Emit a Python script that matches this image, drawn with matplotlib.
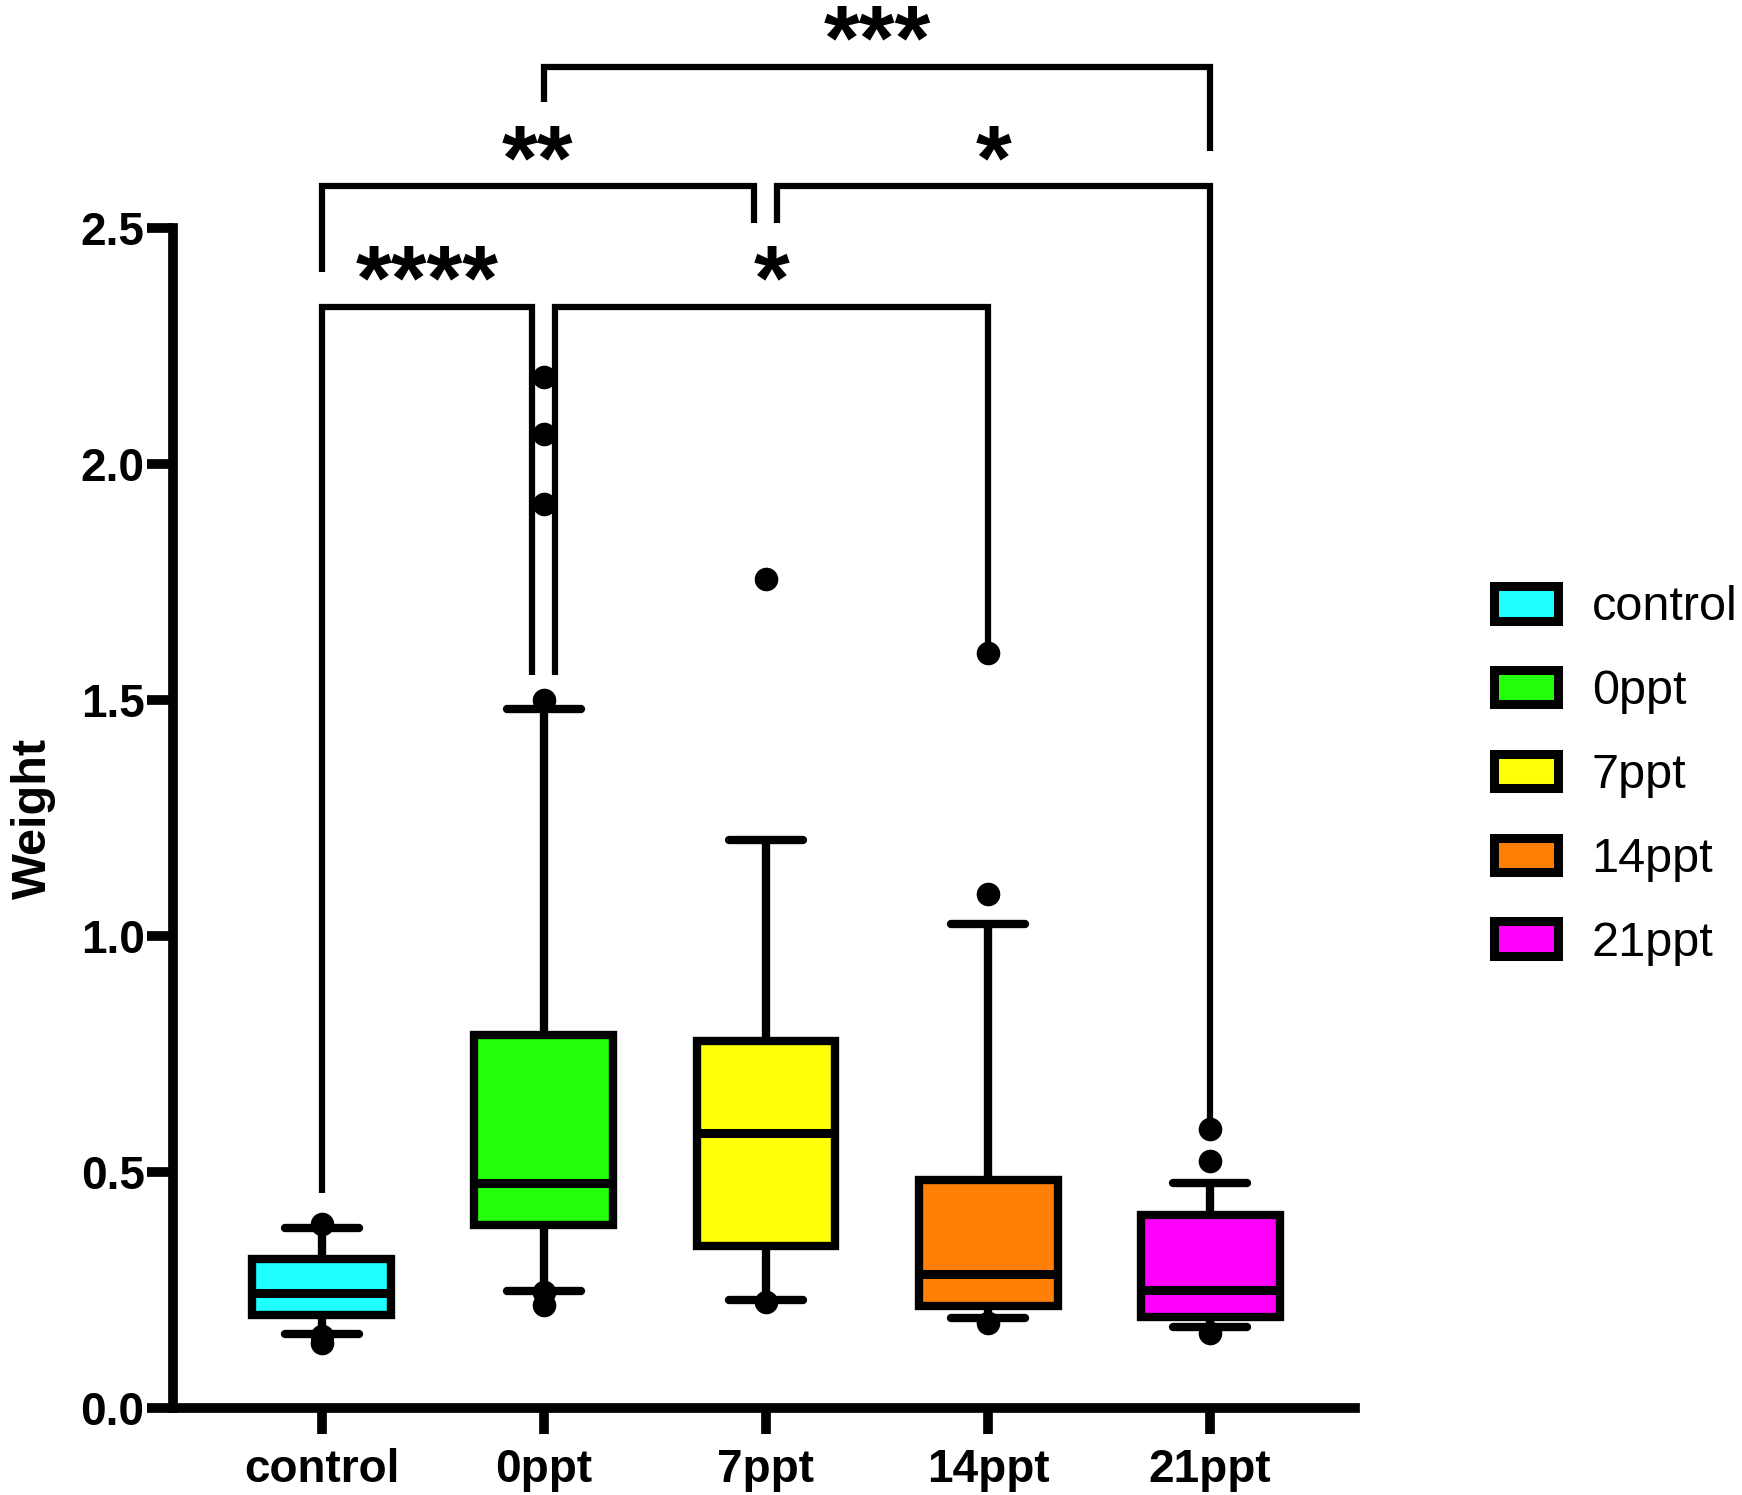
import matplotlib
matplotlib.use('Agg')
import matplotlib.pyplot as plt

plt.rcParams['font.family'] = ['Liberation Sans', 'DejaVu Sans']

# ---- data ----
groups = ['control', '0ppt', '7ppt', '14ppt', '21ppt']
colors = ['#1FFFFF', '#22FF08', '#FFFF0A', '#FF7F07', '#FF00FF']
q1 = [0.197, 0.388, 0.344, 0.217, 0.193]
medians = [0.244, 0.477, 0.582, 0.284, 0.250]
q3 = [0.316, 0.790, 0.777, 0.483, 0.408]
whisker_low = [0.157, 0.248, 0.229, 0.191, 0.172]
whisker_high = [0.381, 1.481, 1.203, 1.025, 0.477]
outliers = [
    [0.390, 0.152, 0.138],
    [2.184, 2.064, 1.915, 1.500, 0.246, 0.218],
    [1.756, 0.224],
    [1.600, 1.089, 0.180],
    [0.591, 0.523, 0.159],
]
yticks = [0.0, 0.5, 1.0, 1.5, 2.0, 2.5]
ytick_labels = ['0.0', '0.5', '1.0', '1.5', '2.0', '2.5']

# significance brackets
br_x1 = [0.0, 1.05, 0.0, 2.05, 1.0]
br_x2 = [0.945, 3.0, 1.945, 4.0, 4.0]
br_h = [2.332, 2.332, 2.589, 2.589, 2.842]
br_y1 = [0.455, 1.553, 2.407, 2.510, 2.767]
br_y2 = [1.553, 1.620, 2.510, 0.610, 2.663]
br_labels = ['****', '*', '**', '*', '***']
br_text_y = [2.327, 2.327, 2.582, 2.582, 2.835]

# ---- figure ----
W, H = 1742, 1495
fig = plt.figure(figsize=(W / 100, H / 100), dpi=100)
ax = fig.add_axes([173 / W, 1 - 1408 / H, (1355 - 173) / W, (1408 - 228) / H])

stats = []
for i, g in enumerate(groups):
    stats.append(dict(label=g, q1=q1[i], med=medians[i], q3=q3[i],
                      whislo=whisker_low[i], whishi=whisker_high[i],
                      fliers=outliers[i]))

bp = ax.bxp(stats, positions=range(len(groups)), widths=0.626, capwidths=0.333,
            patch_artist=True, showfliers=True,
            boxprops=dict(linewidth=6, edgecolor='black', joinstyle='miter'),
            whiskerprops=dict(linewidth=6, color='black', solid_capstyle='butt'),
            capprops=dict(linewidth=6, color='black', solid_capstyle='round'),
            medianprops=dict(linewidth=6.5, color='black', solid_capstyle='butt'),
            flierprops=dict(marker='o', markerfacecolor='black', markeredgecolor='black',
                            markersize=17, markeredgewidth=0, linestyle='none'))
for patch, c in zip(bp['boxes'], colors):
    patch.set_facecolor(c)

ax.set_xlim(-0.671, 4.653)
ax.set_ylim(0, 2.5)
ax.set_xticks(range(len(groups)), groups)
ax.set_yticks(yticks, ytick_labels)
for s in ['top', 'right']:
    ax.spines[s].set_visible(False)
for s in ['left', 'bottom']:
    ax.spines[s].set_linewidth(7)
ax.tick_params(axis='both', length=18.5, width=7, labelsize=33, direction='out')
ax.tick_params(axis='x', pad=10)
ax.tick_params(axis='y', pad=2)
for lab in ax.get_xticklabels() + ax.get_yticklabels():
    lab.set_fontweight('bold')

ax.set_ylabel('Weight', fontsize=35, fontweight='bold')
ax.yaxis.set_label_coords((56 - 173) / 1182, 0.5)

for x1, x2, h, y1, y2, lab, ty in zip(br_x1, br_x2, br_h, br_y1, br_y2, br_labels, br_text_y):
    ax.plot([x1, x1, x2, x2], [y1, h, h, y2], color='black', lw=4.5, clip_on=False,
            solid_joinstyle='miter', solid_capstyle='butt')
    ax.text((x1 + x2) / 2, ty, lab, ha='center', va='baseline', fontsize=66,
            fontweight='bold', clip_on=False)

leg = fig.legend(bp['boxes'], groups, loc='center left',
                 bbox_to_anchor=(1493.5 / W, 1 - 775.5 / H), frameon=False, fontsize=35,
                 handlelength=1.32, handleheight=0.72, handletextpad=0.7,
                 labelspacing=0.80, borderpad=0, borderaxespad=0)
for hnd in leg.legend_handles:
    hnd.set_linewidth(6.5)

fig.savefig('out.png', dpi=100)
